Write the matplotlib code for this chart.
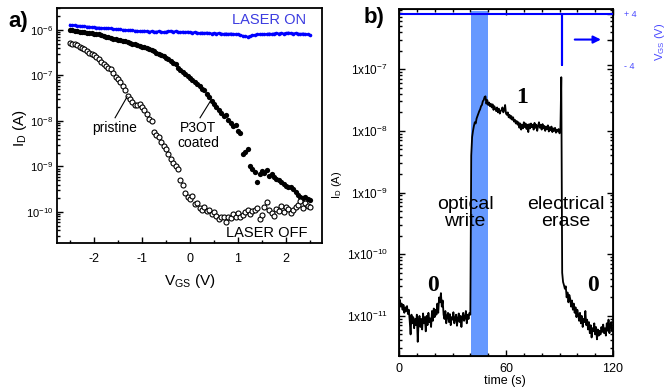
import numpy as np
import matplotlib
matplotlib.use('Agg')
import matplotlib.pyplot as plt
from matplotlib.ticker import MultipleLocator, LogLocator, FuncFormatter, NullFormatter

plt.rcParams['font.family'] = ['Liberation Sans', 'DejaVu Sans']
plt.rcParams['mathtext.fontset'] = 'custom'
plt.rcParams['mathtext.rm'] = 'Liberation Sans'
plt.rcParams['mathtext.default'] = 'regular'
plt.rcParams['axes.unicode_minus'] = False

# ---------------- panel a data: gate sweep, log10 of I_D (A) ----------------
vgs = np.round(np.arange(-2.5, 2.501, 0.05), 2)

laser_on_log = [
    -5.89, -5.90, -5.90, -5.91, -5.91, -5.92, -5.92, -5.93, -5.93, -5.94,
    -5.94, -5.95, -5.95, -5.96, -5.96, -5.97, -5.96, -5.97, -5.98, -5.98,
    -5.99, -5.99, -6.00, -6.00, -6.01, -6.00, -6.01, -6.02, -6.02, -6.03,
    -6.03, -6.02, -6.03, -6.04, -6.03, -6.04, -6.04, -6.03, -6.04, -6.05,
    -6.04, -6.03, -6.02, -6.04, -6.03, -6.04, -6.05, -6.04, -6.05, -6.04,
    -6.05, -6.06, -6.05, -6.06, -6.07, -6.06, -6.07, -6.06, -6.07, -6.08,
    -6.07, -6.08, -6.07, -6.08, -6.09, -6.08, -6.09, -6.08, -6.09, -6.10,
    -6.10, -6.11, -6.13, -6.14, -6.15, -6.14, -6.12, -6.11, -6.10, -6.10,
    -6.09, -6.10, -6.09, -6.08, -6.09, -6.08, -6.07, -6.08, -6.07, -6.08,
    -6.07, -6.06, -6.07, -6.08, -6.07, -6.08, -6.09, -6.08, -6.09, -6.10,
    -6.11]

p3ot_log = [
    -6.00, -6.01, -6.02, -6.02, -6.04, -6.04, -6.05, -6.06, -6.06, -6.07,
    -6.08, -6.09, -6.10, -6.12, -6.13, -6.15, -6.16, -6.18, -6.19, -6.20,
    -6.22, -6.23, -6.24, -6.25, -6.26, -6.28, -6.30, -6.31, -6.33, -6.35,
    -6.37, -6.38, -6.40, -6.43, -6.45, -6.47, -6.50, -6.53, -6.56, -6.58,
    -6.62, -6.65, -6.68, -6.73, -6.76, -6.83, -6.88, -6.92, -6.97, -7.02,
    -7.06, -7.10, -7.14, -7.18, -7.24, -7.29, -7.33, -7.40, -7.48, -7.56,
    -7.63, -7.70, -7.76, -7.82, -7.90, -7.86, -7.98, -8.04, -8.10, -8.08,
    -8.22, -8.26, -8.72, -8.68, -8.62, -9.00, -9.06, -9.12, -9.34, -9.16,
    -9.10, -9.14, -9.08, -9.20, -9.16, -9.22, -9.28, -9.30, -9.34, -9.38,
    -9.42, -9.45, -9.44, -9.50, -9.56, -9.62, -9.66, -9.70, -9.68, -9.72,
    -9.74]

pristine_log = [
    -6.28, -6.30, -6.32, -6.33, -6.37, -6.40, -6.42, -6.46, -6.50, -6.52,
    -6.55, -6.60, -6.64, -6.70, -6.74, -6.80, -6.84, -6.86, -6.95, -7.03,
    -7.08, -7.14, -7.24, -7.32, -7.45, -7.52, -7.58, -7.64, -7.66, -7.62,
    -7.70, -7.75, -7.85, -7.95, -8.00, -8.25, -8.30, -8.36, -8.47, -8.54,
    -8.62, -8.72, -8.84, -8.93, -9.00, -9.05, -9.30, -9.40, -9.58, -9.66,
    -9.72, -9.64, -9.82, -9.80, -9.92, -9.96, -9.90, -9.98, -9.95, -10.04,
    -10.00, -10.08, -10.15, -10.10, -10.12, -10.22, -10.10, -10.14, -10.05, -10.12,
    -10.03, -10.11, -10.06, -10.00, -9.96, -10.05, -9.98, -9.95, -9.92, -10.15,
    -10.06, -9.90, -9.78, -9.96, -10.02, -10.08, -9.93, -9.97, -9.86, -10.00,
    -9.88, -9.94, -10.02, -9.95, -9.88, -9.84, -9.75, -9.92, -9.80, -9.86,
    -9.90]

# ---------------- panel b data: time trace, log10 of I_D (A) ----------------
time_s = np.arange(0, 120.5, 0.5)

trace_log = [
    # 0 - 40 s, state "0"
    -10.78, -10.74, -10.85, -10.80, -10.90, -10.82, -10.95, -10.86, -10.92, -10.84,
    -10.97, -10.90, -11.08, -11.30, -10.98, -11.12, -11.02, -11.20, -11.05, -11.15,
    -10.98, -11.42, -11.10, -11.00, -11.18, -11.05, -11.22, -10.96, -11.12, -11.02,
    -11.25, -11.00, -11.15, -10.95, -11.10, -11.04, -11.18, -10.92, -11.08, -10.88,
    -11.02, -10.90, -10.98, -10.80, -10.95, -10.70, -10.78, -10.63, -10.85, -10.75,
    -10.98, -11.05, -10.92, -11.12, -11.00, -10.95, -11.10, -10.97, -11.15, -11.02,
    -11.06, -10.94, -11.12, -11.04, -10.98, -11.16, -11.05, -10.96, -11.10, -11.00,
    -11.18, -11.02, -10.95, -11.08, -11.03, -10.92, -11.12, -10.98, -11.05, -10.95,
    -10.98,
    # 40.5 - 91 s, optical write, state "1"
    -8.40, -8.10, -8.00, -7.92, -7.86, -7.88, -7.80, -7.76, -7.72, -7.68,
    -7.65, -7.60, -7.58, -7.52, -7.50, -7.45, -7.44, -7.56, -7.50, -7.58,
    -7.54, -7.60, -7.56, -7.62, -7.57, -7.66, -7.60, -7.64, -7.68, -7.62,
    -7.70, -7.64, -7.72, -7.68, -7.66, -7.62, -7.70, -7.66, -7.58, -7.72,
    -7.74, -7.70, -7.78, -7.74, -7.80, -7.76, -7.82, -7.78, -7.85, -7.82,
    -7.88, -7.84, -7.90, -7.86, -7.95, -7.88, -7.98, -7.90, -7.96, -7.86,
    -7.94, -7.88, -7.97, -7.90, -8.02, -7.89, -7.96, -7.88, -7.94, -7.90,
    -7.98, -7.87, -7.95, -7.90, -8.00, -7.92, -7.86, -7.95, -7.90, -7.98,
    -7.89, -7.96, -7.92, -8.00, -7.93, -7.97, -7.91, -8.01, -7.94, -7.99,
    -7.93, -8.02, -7.96, -8.00, -7.95, -8.03, -7.98, -8.01, -7.97, -8.04,
    -8.00, -7.13,
    # 91.5 - 120 s, electrical erase
    -10.30, -10.45, -10.50, -10.56, -10.52, -10.70, -10.62, -10.78, -10.66, -10.72,
    -10.85, -10.75, -10.90, -10.80, -10.95, -10.86, -11.02, -10.90, -10.98, -11.08,
    -10.95, -11.12, -11.00, -11.18, -11.05, -11.10, -10.92, -11.15, -11.06, -11.22,
    -11.10, -11.28, -11.15, -11.35, -11.20, -11.25, -11.12, -11.30, -11.18, -11.38,
    -11.22, -11.32, -11.24, -11.30, -11.18, -11.26, -11.14, -11.28, -11.20, -11.32,
    -11.12, -11.24, -11.06, -11.28, -11.15, -11.10, -11.25, -11.20]

# gate voltage program (right axis)
vgs_t = [0, 91.4, 91.4, 91.4, 120]
vgs_v = [4, 4, -4, 4, 4]

# ---------------- figure ----------------
W, H = 672, 392
fig = plt.figure(figsize=(W / 100, H / 100), dpi=100)


def box(l, t, r, b):
    return [l / W, 1 - b / H, (r - l) / W, (b - t) / H]


def ftxt(x, y, s, **kw):
    fig.text(x / W, 1 - y / H, s, ha='center', va='center', **kw)


# ----- panel a -----
axa = fig.add_axes(box(57, 8, 322, 243))
axa.plot(vgs, 10 ** np.array(laser_on_log), '-o', color='blue', ms=2.6, lw=1.4, mew=0)
axa.plot(vgs, 10 ** np.array(p3ot_log), 'o', color='black', ms=3.8, mew=0)
axa.plot(vgs, 10 ** np.array(pristine_log), 'o', mfc='white', mec='black', ms=3.6, mew=0.8)
axa.set_yscale('log')
axa.set_xlim(-2.77, 2.75)
axa.set_ylim(10 ** -10.68, 10 ** -5.52)
axa.xaxis.set_major_locator(MultipleLocator(1))
axa.xaxis.set_minor_locator(MultipleLocator(0.5))
axa.yaxis.set_major_locator(LogLocator(base=10, numticks=12))
axa.yaxis.set_minor_locator(LogLocator(base=10, subs=np.arange(2, 10), numticks=12))
axa.yaxis.set_minor_formatter(NullFormatter())
axa.yaxis.set_major_formatter(FuncFormatter(lambda v, p: r'$10^{%d}$' % round(np.log10(v))))
axa.tick_params(which='both', direction='in', width=1)
axa.tick_params(which='major', length=4)
axa.tick_params(which='minor', length=2.5)
axa.tick_params(axis='x', labelsize=9, pad=7)
axa.tick_params(axis='y', labelsize=8, pad=3)
for s in axa.spines.values():
    s.set_linewidth(1.3)

axa.text(2.42, 10 ** -5.78, 'LASER ON', color='#3b3be0', fontsize=10.5, ha='right', va='center')
axa.text(2.45, 10 ** -10.46, 'LASER OFF', color='black', fontsize=10.5, ha='right', va='center')
axa.text(-1.58, 10 ** -8.15, 'pristine', fontsize=10, ha='center', va='center')
axa.plot([-1.56, -1.31], [10 ** -7.93, 10 ** -7.47], color='black', lw=0.8)
axa.text(0.17, 10 ** -8.32, 'P3OT\ncoated', fontsize=10, ha='center', va='center', linespacing=1.1)
axa.plot([0.21, 0.44], [10 ** -7.93, 10 ** -7.54], color='black', lw=0.8)

ftxt(18, 21, 'a)', fontsize=16, fontweight='bold')
ftxt(190, 281, r'V$_{GS}$ (V)', fontsize=11)
ftxt(20, 128, r'I$_{D}$ (A)', fontsize=11, rotation=90)

# ----- panel b -----
axb = fig.add_axes(box(399, 9, 613, 356))
axb.axvspan(40.4, 49.8, ymin=0, ymax=0.993, color='#6699ff', lw=0, zorder=1)
axb.plot(time_s, 10 ** np.array(trace_log), color='black', lw=1.3, zorder=2)
axb.set_yscale('log')
axb.set_xlim(0, 120)
axb.set_ylim(10 ** -11.65, 10 ** -6.024)
axb.set_xticks([0, 60, 120])
axb.xaxis.set_minor_locator(MultipleLocator(10))
axb.yaxis.set_major_locator(LogLocator(base=10, numticks=12))
axb.yaxis.set_minor_locator(LogLocator(base=10, subs=np.arange(2, 10), numticks=12))
axb.yaxis.set_minor_formatter(NullFormatter())
axb.yaxis.set_major_formatter(FuncFormatter(lambda v, p: r'$1x10^{%d}$' % round(np.log10(v))))
for s in axb.spines.values():
    s.set_linewidth(1.3)

axb.text(37, 10 ** -9.33, 'optical\nwrite', fontsize=14, ha='center', va='center', linespacing=1.05, zorder=3)
axb.text(93.7, 10 ** -9.33, 'electrical\nerase', fontsize=14, ha='center', va='center', linespacing=1.05, zorder=3)
axb.text(69, 10 ** -7.46, '1', fontsize=17, fontweight='bold', family='Liberation Serif', ha='center', va='center')
axb.text(19, 10 ** -10.51, '0', fontsize=17, fontweight='bold', family='Liberation Serif', ha='center', va='center')
axb.text(109, 10 ** -10.51, '0', fontsize=17, fontweight='bold', family='Liberation Serif', ha='center', va='center')

axv = axb.twinx()
axv.plot(vgs_t, vgs_v, color='blue', lw=1.5)
axv.set_ylim(-49.5, 4.78)
axv.set_yticks([-4, 0, 4])
axv.set_yticklabels(['- 4', '', '+ 4'])
axv.tick_params(axis='y', direction='in', length=4, width=1, labelsize=6.5,
                labelcolor='#4a4aff', pad=8)
axv.annotate('', xy=(114.8, 0), xytext=(97, 0),
             arrowprops=dict(arrowstyle='-|>', color='blue', lw=1.5, mutation_scale=11))

axb.yaxis.set_ticks_position('both')
axb.xaxis.set_ticks_position('both')
axb.tick_params(which='both', direction='in', width=1)
axb.tick_params(which='major', length=4)
axb.tick_params(which='minor', length=2.5)
axb.tick_params(axis='x', labelsize=9, pad=5)
axb.tick_params(axis='y', labelsize=8.5, pad=8)

ftxt(374, 17, 'b)', fontsize=16, fontweight='bold')
ftxt(505, 381, 'time (s)', fontsize=9)
ftxt(337, 185, r'I$_{D}$ (A)', fontsize=8, rotation=90)
ftxt(660, 42, r'V$_{GS}$ (V)', fontsize=8, rotation=90, color='#4a4aff')

fig.savefig('out.png', dpi=100)
